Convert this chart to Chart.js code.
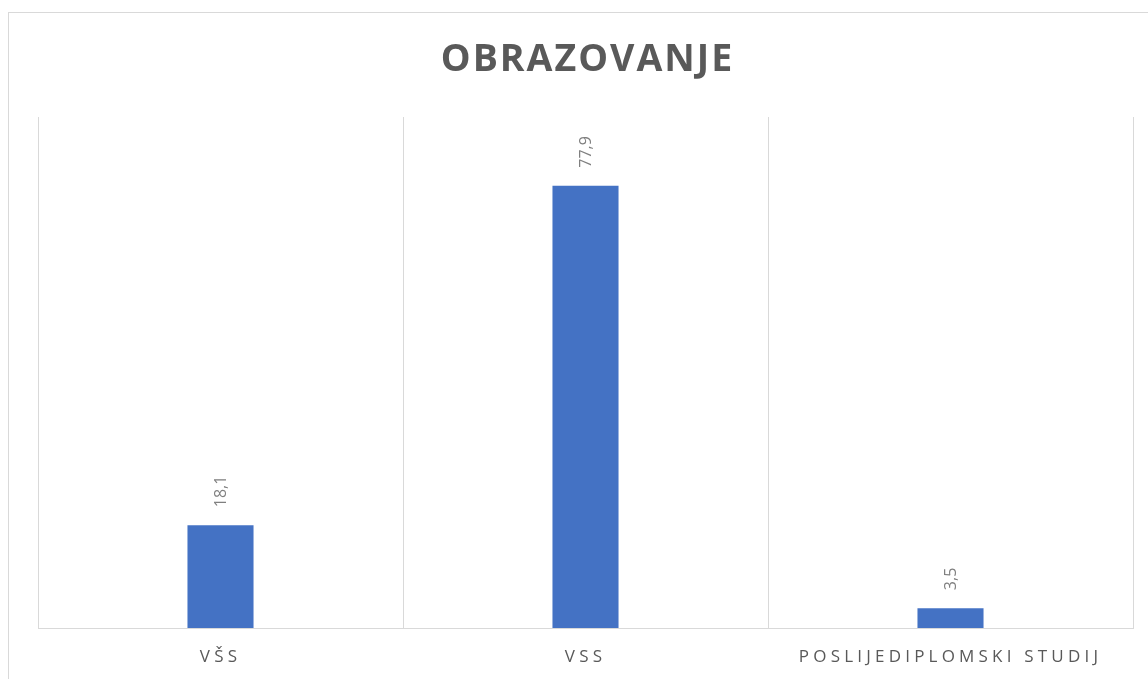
<!DOCTYPE html>
<html>
<head>
<meta charset="utf-8">
<script src="https://cdn.jsdelivr.net/npm/chart.js@4/dist/chart.umd.min.js"></script>
<style>
    html, body { margin: 0; padding: 0; background: #ffffff; overflow: hidden; }
    #wrap { position: relative; width: 1148px; height: 679px; }
    #frame { position: absolute; left: 8px; top: 12px; width: 1200px; height: 720px; border: 1px solid #d9d9d9; box-sizing: border-box; }
    #obrazovanjeChart { position: absolute; left: 0; top: 0; }
</style>
</head>
<body>
<div id="wrap">
    <div id="frame"></div>
    <canvas id="obrazovanjeChart" width="1148" height="679"></canvas>
</div>
<script>
var chartTitle = 'OBRAZOVANJE';
var categories = ['VŠS', 'VSS', 'POSLIJEDIPLOMSKI STUDIJ'];
var values = [18.1, 77.9, 3.5];

var obrazovanjeChart = document.getElementById('obrazovanjeChart').getContext('2d');

// razmak slova za oznake osi (canvas letterSpacing)
var spacingPlugin = {
    id: 'spacing',
    beforeDraw: function (chart) {
        chart.ctx.letterSpacing = '4.2px';
    }
};

var titlePlugin = {
    id: 'customTitle',
    afterDraw: function (chart) {
        var ctx = chart.ctx;
        var area = chart.chartArea;
        ctx.save();
        ctx.letterSpacing = '2px';
        ctx.font = 'bold 37.5px "Open Sans"';
        ctx.fillStyle = '#595959';
        ctx.textAlign = 'center';
        ctx.textBaseline = 'middle';
        ctx.fillText(chartTitle, (area.left + area.right) / 2 + 2, 60);
        ctx.restore();
    }
};

var valueLabels = {
    id: 'valueLabels',
    afterDatasetsDraw: function (chart) {
        var ctx = chart.ctx;
        var meta = chart.getDatasetMeta(0);
        ctx.save();
        ctx.letterSpacing = '0px';
        ctx.font = '16px "Open Sans"';
        ctx.fillStyle = '#7f7f7f';
        ctx.textAlign = 'left';
        ctx.textBaseline = 'middle';
        meta.data.forEach(function (bar, i) {
            var text = values[i].toFixed(1).replace('.', ',');
            ctx.save();
            ctx.translate(bar.x + 1, bar.y - 18);
            ctx.rotate(-Math.PI / 2);
            ctx.fillText(text, 0, 0);
            ctx.restore();
        });
        ctx.restore();
    }
};

var newChart = new Chart(obrazovanjeChart, {
    type: 'bar',
    data: {
        labels: categories,
        datasets: [{
            data: values,
            backgroundColor: '#4472c4',
            borderWidth: 0,
            barPercentage: 1,
            categoryPercentage: 0.181
        }]
    },
    options: {
        responsive: false,
        animation: false,
        layout: {
            padding: { top: 117, left: 38, right: 15, bottom: 11 }
        },
        plugins: {
            legend: { display: false },
            title: { display: false },
            tooltip: { enabled: false }
        },
        scales: {
            x: {
                grid: {
                    display: true,
                    offset: true,
                    color: '#d9d9d9',
                    lineWidth: 1,
                    drawTicks: false
                },
                border: { display: true, color: '#d9d9d9', width: 1 },
                ticks: {
                    padding: 19,
                    color: '#595959',
                    font: { family: '"Open Sans"', size: 17 },
                    maxRotation: 0,
                    autoSkip: false
                },
                afterFit: function (scale) {
                    scale.height = 40;
                }
            },
            y: {
                display: false,
                min: 0,
                max: 90
            }
        }
    },
    plugins: [spacingPlugin, titlePlugin, valueLabels]
});
</script>
</body>
</html>
